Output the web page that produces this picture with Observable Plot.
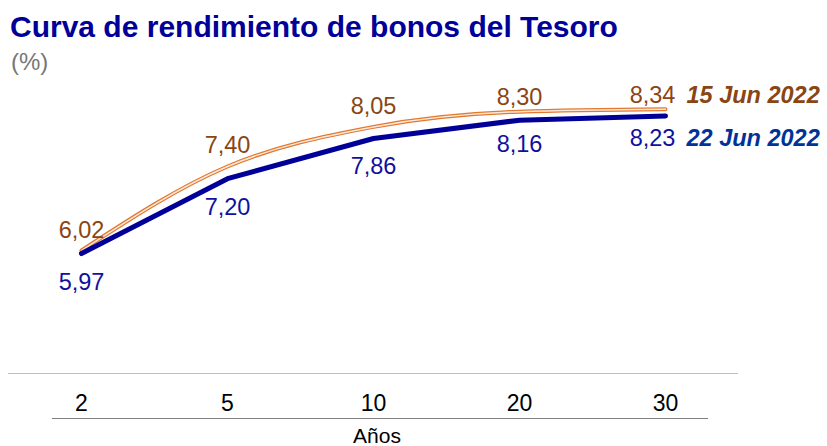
<!DOCTYPE html>
<html>
<head>
<meta charset="utf-8">
<script src="https://cdn.jsdelivr.net/npm/d3@7"></script>
<script src="https://cdn.jsdelivr.net/npm/@observablehq/plot@0.6"></script>
<style>
  html, body { margin: 0; padding: 0; background: #fff; }
  body { width: 827px; height: 446px; overflow: hidden; font-family: "Liberation Sans", Arial, sans-serif; }
  #title { font-weight: bold; font-size: 30px; line-height: 32px; height: 32px; padding: 11px 0 0 10px; color: #000099; white-space: nowrap; }
  #unit { font-size: 24px; line-height: 28px; height: 28px; margin-top: 5px; padding-left: 11px; color: #777; }
  #chart svg { display: block; }
  #rule { margin: 3px 0 0 52px; width: 656px; height: 0; border-top: 1px solid #808080; }
  #xlabel { font-size: 21px; line-height: 21px; margin-top: 6px; width: 754px; text-align: center; color: #000; }
</style>
</head>
<body>
<div id="title">Curva de rendimiento de bonos del Tesoro</div>
<div id="unit">(%)</div>
<div id="chart"></div>
<div id="rule"></div>
<div id="xlabel">Años</div>
<script>
const tenors = ["2", "5", "10", "20", "30"];
const jun15 = [6.02, 7.40, 8.05, 8.30, 8.34];
const jun22 = [5.97, 7.20, 7.86, 8.16, 8.23];
const seriesNames = ["15 Jun 2022", "22 Jun 2022"];

const s15 = tenors.map((t, i) => ({tenor: t, value: jun15[i], i}));
const s22 = tenors.map((t, i) => ({tenor: t, value: jun22[i], i}));
const fmt = d => d.value.toFixed(2).replace(".", ",");
const last = tenors.length - 1;

const cOrangeLine = "#e07a32";
const cOrangeInner = "#fde8d8";
const cOrangeText = "#8b4513";
const cBlueLine = "#000099";
const cBlueText = "#1010a0";
const cBlueLegend = "#003399";

const font = "Liberation Sans, Arial, sans-serif";
const fs = 23.5;

const plot = Plot.plot({
  width: 827,
  height: 339,
  marginLeft: 8,
  marginRight: 89,
  marginTop: 23,
  marginBottom: 42,
  style: {fontFamily: font, background: "transparent", overflow: "visible"},
  x: {type: "point", domain: tenors, padding: 0.5},
  y: {domain: [4, 8.5], axis: null},
  marks: [
    Plot.ruleY([4], {stroke: "#c0c0c0", strokeWidth: 1.2}),
    Plot.axisX({tickSize: 0, tickPadding: 21, fontSize: 23, color: "#000", label: null, fill: "#000"}),
    Plot.lineY(s15, {x: "tenor", y: "value", curve: "monotone-x", stroke: cOrangeLine, strokeWidth: 4}),
    Plot.lineY(s15, {x: "tenor", y: "value", curve: "monotone-x", stroke: cOrangeInner, strokeWidth: 1.5}),
    Plot.lineY(s22, {x: "tenor", y: "value", stroke: cBlueLine, strokeWidth: 5, strokeLinecap: "round", strokeLinejoin: "round"}),
    Plot.text(s15.filter(d => d.i < 3), {x: "tenor", y: "value", text: fmt, lineAnchor: "bottom", dy: -13, fontSize: fs, fill: cOrangeText}),
    Plot.text(s15.filter(d => d.i === 3), {x: "tenor", y: "value", text: fmt, lineAnchor: "bottom", dy: -7, fontSize: fs, fill: cOrangeText}),
    Plot.text(s15.filter(d => d.i === last), {x: "tenor", y: "value", text: fmt, lineAnchor: "bottom", dy: -6, dx: -13, fontSize: fs, fill: cOrangeText}),
    Plot.text(s22.filter(d => d.i < 3), {x: "tenor", y: "value", text: fmt, lineAnchor: "bottom", dy: 36, fontSize: fs, fill: cBlueText}),
    Plot.text(s22.filter(d => d.i === 3), {x: "tenor", y: "value", text: fmt, lineAnchor: "bottom", dy: 32, fontSize: fs, fill: cBlueText}),
    Plot.text(s22.filter(d => d.i === last), {x: "tenor", y: "value", text: fmt, lineAnchor: "bottom", dy: 30, dx: -13, fontSize: fs, fill: cBlueText}),
    Plot.text(s15.filter(d => d.i === last), {x: "tenor", y: "value", text: () => seriesNames[0], lineAnchor: "bottom", textAnchor: "start", dy: -6, dx: 21, fontSize: fs, fontWeight: "bold", fontStyle: "italic", fill: cOrangeText}),
    Plot.text(s22.filter(d => d.i === last), {x: "tenor", y: "value", text: () => seriesNames[1], lineAnchor: "bottom", textAnchor: "start", dy: 30, dx: 21, fontSize: fs, fontWeight: "bold", fontStyle: "italic", fill: cBlueLegend})
  ]
});
document.getElementById("chart").appendChild(plot);
</script>
</body>
</html>
